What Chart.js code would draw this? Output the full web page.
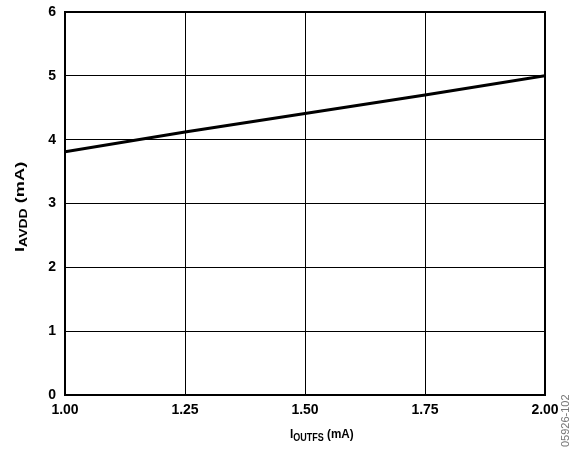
<!DOCTYPE html>
<html>
<head>
<meta charset="utf-8">
<script src="https://cdn.jsdelivr.net/npm/chart.js@4.4.0/dist/chart.umd.min.js"></script>
<style>
  body { margin: 0; background: #fff; }
  canvas { display: block; }
</style>
</head>
<body>
<canvas id="chart" width="570" height="449"></canvas>
<script>
// I_OUTFS (mA) vs I_AVDD (mA)
const iOutfs = [1.00, 1.25, 1.50, 1.75, 2.00];
const iAvdd = [3.81, 4.12, 4.41, 4.70, 5.00];
const xTicks = [1.00, 1.25, 1.50, 1.75, 2.00];
const yTicks = [0, 1, 2, 3, 4, 5, 6];

const FONT = '"Liberation Sans", Arial, Helvetica, sans-serif';

// draws I + subscript + " (mA)" starting at 0,0 of current transform
function subTitle(ctx, sub) {
  let x = 0;
  ctx.font = 'bold 13px ' + FONT;
  ctx.fillText('I', x, 0);
  x += ctx.measureText('I').width;
  ctx.font = 'bold 10px ' + FONT;
  ctx.fillText(sub, x, 3);
  x += ctx.measureText(sub).width;
  ctx.font = 'bold 13px ' + FONT;
  ctx.fillText(' (mA)', x, 0);
}

// frame + axis titles with subscripts + figure id
const decor = {
  id: 'decor',
  afterDraw(chart) {
    const ctx = chart.ctx;
    const a = chart.chartArea;
    ctx.save();
    ctx.strokeStyle = '#000';
    ctx.lineWidth = 2;
    ctx.strokeRect(a.left, a.top, a.right - a.left, a.bottom - a.top);

    ctx.fillStyle = '#000';
    ctx.textBaseline = 'alphabetic';
    ctx.textAlign = 'left';

    ctx.save();
    ctx.translate(290, 438);
    ctx.scale(0.9, 1);
    subTitle(ctx, 'OUTFS');
    ctx.restore();

    ctx.save();
    ctx.translate(24, 252);
    ctx.rotate(-Math.PI / 2);
    ctx.scale(1.4, 1);
    subTitle(ctx, 'AVDD');
    ctx.restore();

    // figure id
    ctx.save();
    ctx.translate(569, 447);
    ctx.rotate(-Math.PI / 2);
    ctx.scale(1.1, 1);
    ctx.font = '10px ' + FONT;
    ctx.fillStyle = '#777';
    ctx.fillText('05926-102', 0, 0);
    ctx.restore();
    ctx.restore();
  }
};

const chart = new Chart(document.getElementById('chart'), {
  type: 'line',
  data: {
    datasets: [{
      data: iOutfs.map((v, i) => ({x: v, y: iAvdd[i]})),
      borderColor: '#000',
      borderWidth: 3,
      pointRadius: 0,
      tension: 0
    }]
  },
  options: {
    responsive: false,
    animation: false,
    layout: { padding: { top: 12, right: 25, left: 0, bottom: 0 } },
    plugins: { legend: { display: false }, tooltip: { enabled: false } },
    scales: {
      x: {
        type: 'linear',
        min: 1, max: 2,
        afterBuildTicks: s => { s.ticks = xTicks.map(v => ({value: v})); },
        afterFit: s => { s.height = 54; },
        grid: { color: '#000', lineWidth: 1, drawTicks: false },
        border: { display: false },
        ticks: {
          padding: 7,
          color: '#000',
          maxRotation: 0,
          font: { family: FONT, size: 14, weight: 'bold' },
          callback: v => v.toFixed(2)
        }
      },
      y: {
        min: 0, max: 6,
        afterBuildTicks: s => { s.ticks = yTicks.map(v => ({value: v})); },
        afterFit: s => { s.width = 65; s.paddingTop = 0; s.paddingBottom = 0; },
        grid: { color: '#000', lineWidth: 1, drawTicks: false },
        border: { display: false },
        ticks: {
          padding: 9,
          color: '#000',
          font: { family: FONT, size: 14, weight: 'bold', lineHeight: 0.6 }
        }
      }
    }
  },
  plugins: [decor]
});
</script>
</body>
</html>
